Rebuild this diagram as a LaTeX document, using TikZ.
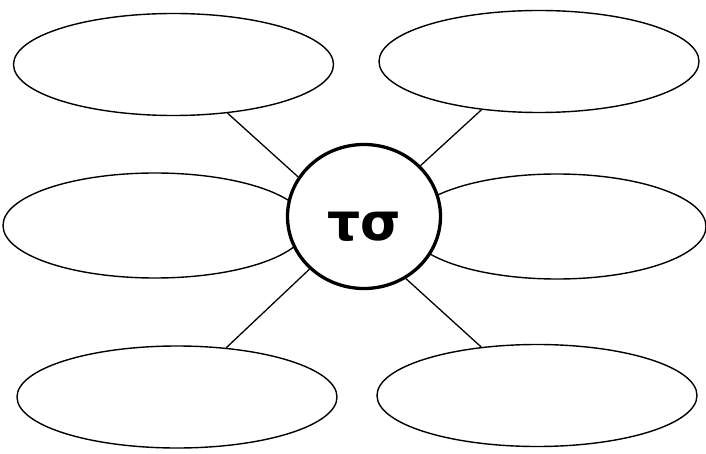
\documentclass[tikz,border=0pt]{standalone}
\usepackage{fontspec}
\newfontfamily\greekfont{DejaVu Sans}
\usetikzlibrary{shapes.geometric}

\begin{document}
\begin{tikzpicture}[x=1pt,y=-1pt,
  bubble/.style={draw,ellipse,line width=1.4pt,inner sep=0pt,minimum width=320pt,minimum height=102pt},
  hub/.style={draw,ellipse,line width=3.3pt,fill=white,inner sep=0pt,minimum width=153pt,minimum height=144pt,text height=48pt,text depth=0pt,font=\greekfont\bfseries\fontsize{52}{52}\selectfont},
  spoke/.style={line width=1.3pt}]
\useasboundingbox (0,0) rectangle (706,454);
\node[bubble] (tl) at (173.5,64.5) {};
\node[bubble] (tr) at (539,61.5) {};
\node[bubble,minimum width=304pt,minimum height=105pt] (ml) at (155,225.5) {};
\node[bubble,minimum width=298pt,minimum height=105pt] (mr) at (557,226.5) {};
\node[bubble] (bl) at (177,397) {};
\node[bubble] (br) at (537,395.5) {};
\node[hub] (hub) at (364,216.5) {τσ};
% spokes from the outer bubbles to the hub
\draw[spoke] (tl.-42) -- (hub.149.5);
\draw[spoke] (tr.-140.5) -- (hub.42);
\draw[spoke] (bl.45) -- (hub.-136);
\draw[spoke] (br.139.3) -- (hub.-56);
\end{tikzpicture}
\end{document}
